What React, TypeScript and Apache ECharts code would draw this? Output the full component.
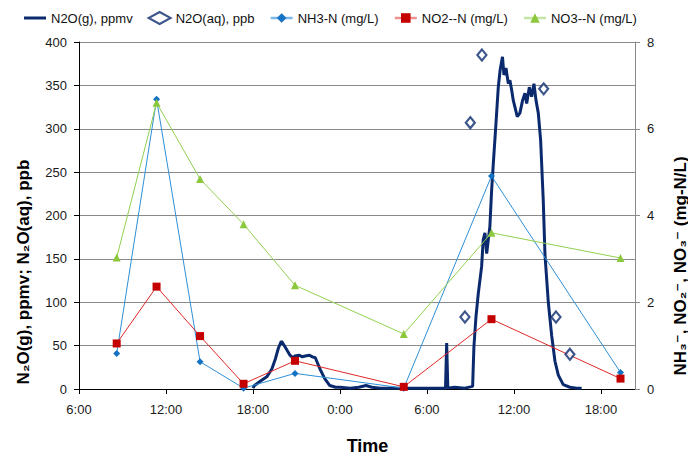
import React, { useEffect, useRef } from "react";
import * as echarts from "echarts";

// Time in hours since 0:00 of day 1
const n2oGTime = [
  18.0, 18.1, 18.5, 18.95, 19.3, 19.55, 19.75, 19.95, 20.05, 20.3, 20.55, 20.75, 20.9, 21.2, 21.4, 21.6,
  21.9, 22.1, 22.3, 22.5, 22.65, 22.95, 23.3, 23.7, 24.0, 24.7, 25.3, 25.8, 26.2, 26.8, 28.2, 29.5, 30.9,
  31.28, 31.36, 31.44, 31.9, 32.6, 33.15, 33.24, 33.38, 33.54, 33.77, 33.88, 34.0, 34.12, 34.23, 34.34,
  34.46, 34.57, 34.76, 34.92, 35.05, 35.21, 35.31, 35.45, 35.61, 35.72, 35.84, 35.95, 36.07, 36.23, 36.41,
  36.6, 36.76, 36.88, 37.06, 37.22, 37.38, 37.52, 37.68, 37.84, 38.02, 38.14, 38.37, 38.6, 38.83, 39.06,
  39.4, 39.86, 40.32, 40.67,
];
const n2oGValue = [
  1, 4, 9, 14, 23, 35, 47, 55, 53, 46, 39, 36, 38, 39, 37, 38,
  39, 37, 36, 28, 22, 12, 4, 2, 2, 1, 2, 4, 2, 1, 1, 1, 1,
  1, 53, 1, 2, 1, 3, 49, 83, 110, 141, 172, 180, 156, 172, 187,
  229, 258, 306, 348, 368, 383, 362, 370, 352, 356, 345, 333, 325, 314, 318,
  333, 341, 329, 348, 337, 352, 333, 318, 287, 218, 155, 100, 62, 32, 16,
  5, 2, 1, 1,
];

const n2oAqTime = [32.62, 32.99, 33.79, 38.05, 38.9, 39.86];
const n2oAqValue = [83, 307, 385, 346, 83, 40];

const sampleTime = [8.6, 11.35, 14.35, 17.35, 20.9, 28.4, 34.45, 43.35];
const nh3Value = [0.82, 6.68, 0.63, 0.02, 0.36, 0.02, 4.91, 0.38];
const no2Value = [1.05, 2.36, 1.22, 0.12, 0.65, 0.05, 1.61, 0.24];
const no3Value = [3.03, 6.6, 4.84, 3.8, 2.39, 1.27, 3.6, 3.02];

const seriesNames = ["N2O(g), ppmv", "N2O(aq), ppb", "NH3-N (mg/L)", "NO2--N (mg/L)", "NO3--N (mg/L)"];

const FONT = "'Liberation Sans', Arial, 'DejaVu Sans', sans-serif";

const pairs = (xs: number[], ys: number[]) => xs.map((x, i) => [x, ys[i]]);

export default function App() {
  const ref = useRef<HTMLDivElement>(null);
  useEffect(() => {
    if (!ref.current) return;
    const chart = echarts.init(ref.current, null, { renderer: "svg" });
    const navy = "#0b2a6e";
    chart.setOption({
      animation: false,
      backgroundColor: "#ffffff",
      textStyle: { fontFamily: FONT },
      grid: { left: 79, right: 53, top: 42, bottom: 68, containLabel: false },
      legend: {
        left: 19,
        top: 6,
        itemWidth: 22,
        itemHeight: 12,
        itemGap: 15,
        symbolKeepAspect: true,
        textStyle: { fontFamily: FONT, fontSize: 13, color: "#111" },
        data: [
          { name: seriesNames[0], icon: "path://M0,0H22V3H0Z" },
          { name: seriesNames[1] },
          { name: seriesNames[2], lineStyle: { width: 2.5, color: "#7ab8e8" } },
          { name: seriesNames[3], lineStyle: { width: 2.5, color: "#ee9090" } },
          { name: seriesNames[4], lineStyle: { width: 2.5, color: "#c4e6a4" } },
        ],
      },
      xAxis: {
        type: "value",
        min: 6,
        max: 44.35,
        interval: 6,
        axisLine: { lineStyle: { color: "#000", width: 1 } },
        axisTick: { length: 5, lineStyle: { color: "#000" } },
        splitLine: { show: false },
        axisLabel: {
          margin: 14,
          fontSize: 13,
          color: "#1a1a1a",
          fontFamily: FONT,
          showMaxLabel: false,
          formatter: (v: number) => (Math.abs(v % 6) < 1e-6 ? `${v % 24}:00` : ""),
        },
      },
      yAxis: [
        {
          type: "value",
          min: 0,
          max: 400,
          interval: 50,
          axisLine: { show: true, lineStyle: { color: "#000", width: 1 } },
          axisTick: { show: true, length: 5, lineStyle: { color: "#000" } },
          splitLine: { show: true, lineStyle: { color: "#8a8a8a", width: 1 } },
          axisLabel: { margin: 12, fontSize: 13, color: "#1a1a1a", fontFamily: FONT },
        },
        {
          type: "value",
          min: 0,
          max: 8,
          interval: 2,
          position: "right",
          axisLine: { show: true, lineStyle: { color: "#8a8a8a", width: 1 } },
          axisTick: { show: true, length: 5, lineStyle: { color: "#8a8a8a" } },
          splitLine: { show: false },
          axisLabel: { margin: 12, fontSize: 13, color: "#1a1a1a", fontFamily: FONT },
        },
      ],
      series: [
        {
          name: seriesNames[0],
          type: "line",
          yAxisIndex: 0,
          symbol: "none",
          data: pairs(n2oGTime, n2oGValue),
          lineStyle: { color: navy, width: 3 },
          itemStyle: { color: navy },
          z: 2,
        },
        {
          name: seriesNames[1],
          type: "scatter",
          yAxisIndex: 0,
          symbol: "diamond",
          symbolSize: [9, 11],
          data: pairs(n2oAqTime, n2oAqValue),
          itemStyle: { color: "#ffffff", borderColor: navy, borderWidth: 2.2 },
          z: 5,
        },
        {
          name: seriesNames[2],
          type: "line",
          yAxisIndex: 1,
          symbol: "diamond",
          symbolSize: 7,
          data: pairs(sampleTime, nh3Value),
          lineStyle: { color: "#2f8fd6", width: 1 },
          itemStyle: { color: "#1472c4" },
          z: 3,
        },
        {
          name: seriesNames[3],
          type: "line",
          yAxisIndex: 1,
          symbol: "rect",
          symbolSize: 8,
          data: pairs(sampleTime, no2Value),
          lineStyle: { color: "#e02828", width: 1 },
          itemStyle: { color: "#c40000" },
          z: 3,
        },
        {
          name: seriesNames[4],
          type: "line",
          yAxisIndex: 1,
          symbol: "triangle",
          symbolSize: 8,
          data: pairs(sampleTime, no3Value),
          lineStyle: { color: "#92d050", width: 1 },
          itemStyle: { color: "#8cc83c" },
          z: 3,
        },
      ],
      graphic: [
        {
          type: "text",
          x: 367.5,
          y: 446,
          style: {
            text: "Time",
            x: 0,
            y: 0,
            align: "center",
            verticalAlign: "middle",
            font: `bold 18px ${FONT}`,
            fill: "#000",
          },
        },
        {
          type: "text",
          x: 23,
          y: 272,
          rotation: Math.PI / 2,
          style: {
            text: "N\u2082O(g), ppmv; N\u2082O(aq), ppb",
            x: 0,
            y: 0,
            align: "center",
            verticalAlign: "middle",
            font: `bold 17px ${FONT}`,
            fill: "#000",
          },
        },
        {
          type: "text",
          x: 680,
          y: 266,
          rotation: Math.PI / 2,
          style: {
            text: "NH\u2083\u207B, NO\u2082\u207B, NO\u2083\u207B (mg-N/L)",
            x: 0,
            y: 0,
            align: "center",
            verticalAlign: "middle",
            font: `bold 17px ${FONT}`,
            fill: "#000",
          },
        },
      ],
    });
    return () => chart.dispose();
  }, []);
  return (
    <div
      ref={ref}
      style={{ position: "fixed", left: 0, top: 0, width: 688, height: 457 }}
    />
  );
}
